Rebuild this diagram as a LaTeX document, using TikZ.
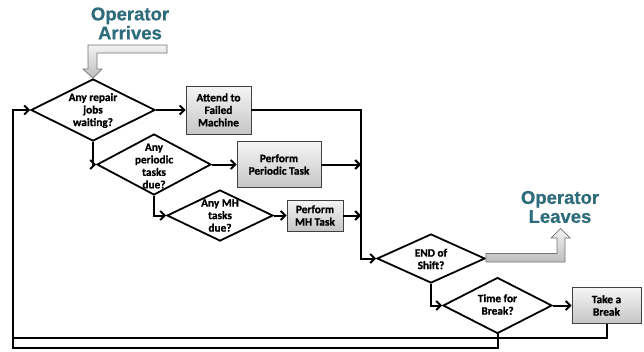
\documentclass[tikz,border=0pt]{standalone}
\usepackage{fontspec}
\setmainfont{Carlito}[BoldFeatures={FakeBold=1.2}]
\newfontfamily\titlefont{Liberation Sans}[BoldFeatures={FakeBold=0.6}]
\usetikzlibrary{shapes.geometric,arrows.meta}
\definecolor{titleteal}{HTML}{2E6C7C}
\tikzset{
  dia/.style={diamond, draw=black, line width=1.8pt, inner sep=0pt, fill=white},
  dtext/.style={align=center, font=\fontsize{11.3}{12.5}\selectfont\bfseries, inner sep=0pt},
  procbox/.style={rectangle, draw=black!75, line width=0.8pt, top color=gray!8, bottom color=gray!45,
     align=center, font=\fontsize{11.3}{12.5}\selectfont\bfseries, inner sep=0pt},
  conn/.style={line width=2pt, -{Straight Barb[length=4.5pt,width=9pt]}},
  plain/.style={line width=2pt},
  blockarrow/.style={draw=black!55, line width=0.7pt, top color=gray!10, bottom color=gray!50},
  titletext/.style={align=center, text=titleteal, font=\fontsize{18.5}{19}\selectfont\titlefont\bfseries, inner sep=0pt}
}
\begin{document}
\begin{tikzpicture}[x=1pt,y=-1pt]
\useasboundingbox (0,0) rectangle (644,351);
% decisions
\node[dia, minimum width=124pt, minimum height=62pt] (d1) at (93,110) {};
\node[dtext] (t1) at (93,110.5) {Any repair\\jobs\\waiting?};
\node[dia, minimum width=114pt, minimum height=61pt] (d2) at (154,164.5) {};
\node[dtext] (t2) at (154,166) {Any\\periodic\\tasks\\due?};
\node[dia, minimum width=106pt, minimum height=51pt] (d3) at (220,215.5) {};
\node[dtext] (t3) at (220,215.5) {Any MH\\tasks\\due?};
\node[dia, minimum width=108pt, minimum height=49pt] (d4) at (431,258.5) {};
\node[dtext] (t4) at (431,259) {END of\\Shift?};
\node[dia, minimum width=109pt, minimum height=56pt] (d5) at (497.5,305.5) {};
\node[dtext] (t5) at (497.5,304.5) {Time for\\Break?};
% processes
\node[procbox, minimum width=65pt, minimum height=48pt] (b1) at (218.5,110) {Attend to\\Failed\\Machine};
\node[procbox, minimum width=84pt, minimum height=46pt] (b2) at (279,164.5) {Perform\\Periodic Task};
\node[procbox, minimum width=56pt, minimum height=31pt] (b3) at (315,215.5) {Perform\\MH Task};
\node[procbox, minimum width=69pt, minimum height=36pt] (b4) at (606.5,305.5) {Take a\\Break};
% titles
\node[titletext] (arr) at (130,23.5) {Operator\\Arrives};
\node[titletext] (lea) at (560,207) {Operator\\Leaves};
% block arrows
\draw[blockarrow] (167,45) -- (88,45) -- (88,69) -- (83,69) -- (d1.north) -- (102,69) -- (97,69) -- (97,53) -- (167,53) -- cycle;
\draw[blockarrow] (d4.east) ++(0,-5) -- (557,253.5) -- (557,238) -- (551,238) -- (560.5,228.5) -- (570,238) -- (565,238) -- (565,262) -- (d4.east |- 0,262) -- cycle;
% junction coordinates
\coordinate (j) at (361,110);
\coordinate (lb1) at (13,338);
\coordinate (lb2) at (13,348);
% connectors
\draw[conn] (d1.east) -- (b1.west);
\draw[conn] (b1.east) -| (j |- d4.west) -- (d4.west);
\draw[conn] (d1.south) |- (d2.west);
\draw[conn] (d2.east) -- (b2.west);
\draw[conn] (b2.east) -- (b2.east -| j);
\draw[conn] (d2.south) |- (d3.west);
\draw[conn] (d3.east) -- (b3.west);
\draw[conn] (b3.east) -- (b3.east -| j);
\draw[conn] (d4.south) |- (d5.west);
\draw[conn] (d5.east) -- (b4.west);
\draw[conn] (b4.south) |- (lb1) |- (d1.west);
\draw[plain] (d5.south) |- (lb2) -- (lb1);
\end{tikzpicture}
\end{document}
